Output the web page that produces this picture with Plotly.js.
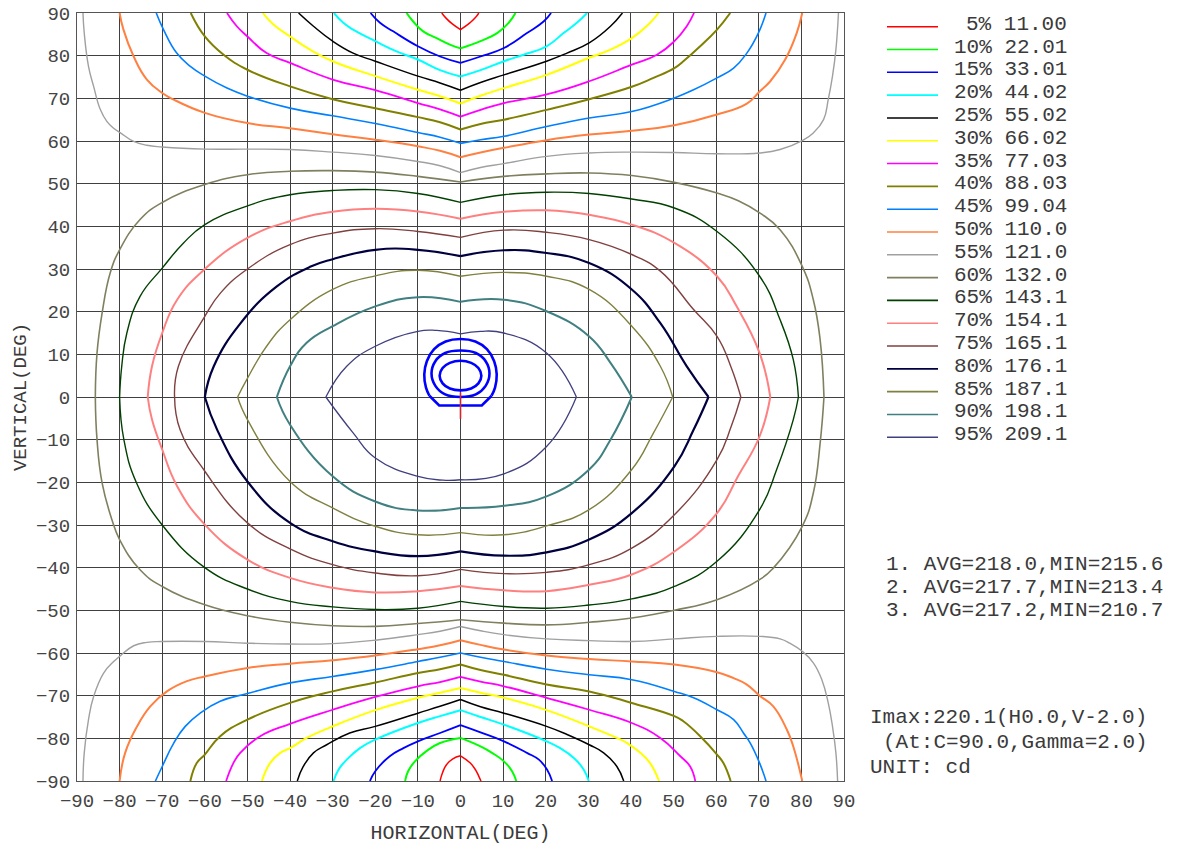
<!DOCTYPE html>
<html><head><meta charset="utf-8">
<script src="https://cdn.plot.ly/plotly-3.0.1.min.js"></script>
<style>html,body{margin:0;padding:0;background:#fff;}#chart{width:1187px;height:845px;}</style>
</head><body><div id="chart"></div>
<script>
// ---- level labels ----
const pctLabels = ['5%','10%','15%','20%','25%','30%','35%','40%','45%','50%','55%','60%','65%','70%','75%','80%','85%','90%','95%'];
const cdValues  = ['11.00','22.01','33.01','44.02','55.02','66.02','77.03','88.03','99.04','110.0','121.0','132.0','143.1','154.1','165.1','176.1','187.1','198.1','209.1'];
const tickVals  = [-90,-80,-70,-60,-50,-40,-30,-20,-10,0,10,20,30,40,50,60,70,80,90];
const tickText  = ['\u221290','\u221280','\u221270','\u221260','\u221250','\u221240','\u221230','\u221220','\u221210','0','10','20','30','40','50','60','70','80','90'];
const zoneStats = ['1. AVG=218.0,MIN=215.6','2. AVG=217.7,MIN=213.4','3. AVG=217.2,MIN=210.7'];
const imaxH = [0];
const imaxV = [-2];

// ---- isocandela curves [H, V] ----
const c05T = [[-4.4,90],[-3.4,88.8],[-2,87.5],[0,86.1],[2.2,87.7],[3.4,88.8],[4.3,90]];
const c05B = [[-4.8,-90],[-4.2,-88],[-3.3,-86.2],[-1.8,-84.8],[0,-84.1],[2.3,-85.8],[3.6,-87.5],[4.3,-88.9],[4.8,-90]];
const c10T = [[-12.65,90],[-11.1,88],[-8.75,85.7],[-5.6,84.1],[-2.5,82.6],[0,81.7],[4.7,83.4],[8.6,85.3],[11.3,87.7],[12.9,90]];
const c10B = [[-13,-90],[-12.3,-87.7],[-10.7,-85.4],[-8,-83],[-4.8,-81.1],[0,-79.9],[4.7,-81.9],[7.4,-83.4],[10.2,-85.4],[12.1,-87.7],[13.1,-90]];
const c15T = [[-21.1,90],[-18.9,87.7],[-15.8,85.7],[-10,82.2],[-4.8,79.8],[0,78.3],[4.7,79.8],[10.2,81.8],[15.6,85.3],[19.5,88],[21.25,90]];
const c15B = [[-21.25,-90],[-20,-87.7],[-16.6,-84.2],[-13.4,-82.3],[-10,-80.7],[-4.8,-78.75],[0,-76.9],[4.7,-78.6],[10.2,-80.7],[15.6,-83.4],[18.4,-85],[20.3,-87.3],[21.5,-90]];
const c20T = [[-29.7,90],[-27.5,87.7],[-25.2,86.1],[-20,83.4],[-15,81],[-10,79.1],[-4.8,76.6],[0,75.1],[4.7,76.6],[10.2,78.7],[14.8,80.2],[20.2,82.2],[24.2,85.3],[27.3,87.7],[29.7,90]];
const c20B = [[-29.8,-90],[-28.6,-87.3],[-26.7,-85],[-23.6,-82.3],[-20,-80.3],[-10,-76.4],[-4.8,-74.8],[0,-73.4],[4.7,-75],[10.2,-76.8],[20.2,-80.7],[23.4,-82.3],[26.6,-84.6],[28.9,-87.3],[30.1,-90]];
const c25T = [[-38,90],[-34.5,86.9],[-30,83.4],[-25.2,80.6],[-20,78.7],[-10,75.2],[-4.8,73.6],[0,71.9],[4.7,73.7],[10.2,75.5],[20.2,78.7],[25,80.6],[30.2,83],[35.2,86.9],[38,90]];
const c25B = [[-38.3,-90],[-36.9,-86.6],[-34.5,-83.4],[-31.4,-81.5],[-26,-78.75],[-20,-77.2],[-10,-74.1],[-4.8,-72.5],[0,-70.9],[4.7,-72.6],[10.2,-74.1],[20.2,-77.2],[25,-79.1],[30.2,-81.5],[33.6,-83.4],[36.7,-86.6],[38.3,-90]];
const c30T = [[-46.4,90],[-43.9,87.3],[-40,84.5],[-35.3,81.4],[-30,78.7],[-20,75.2],[-10,72],[-4.8,70.5],[0,68.8],[4.7,70.6],[10.2,72.4],[20.2,75.5],[30.2,79.5],[35.2,81.4],[40.2,84.1],[44.1,87.3],[46.5,90]];
const c30B = [[-46.6,-90],[-44.7,-85.8],[-42.3,-83.4],[-40,-82.3],[-36.1,-79.9],[-30,-77.2],[-20,-73.4],[-10,-70.5],[-4.8,-69.3],[0,-68.2],[4.7,-69.3],[10.2,-70.5],[20.2,-73.4],[30.2,-77.2],[36.7,-79.9],[39.1,-81.1],[42.2,-83.4],[44.5,-85.8],[46.6,-90]];
const c35T = [[-54.8,90],[-52.5,86.9],[-50,84.5],[-45.5,80.6],[-40,78.3],[-30,74.4],[-20,71.9],[-10,68.9],[-4.8,67.4],[0,65.7],[4.7,67.3],[10.2,68.9],[20.2,70.9],[30.2,74],[40.2,77.9],[46.1,80.2],[50.2,83.4],[53.1,86.9],[54.8,90]];
const c35B = [[-55,-90],[-53.3,-85.8],[-51.7,-83.4],[-47,-79.5],[-40,-76.6],[-30,-73.3],[-20,-70.3],[-10,-67.8],[-4.8,-66.8],[0,-65.6],[4.7,-66.7],[10.2,-67.8],[20.2,-70.5],[30.2,-73.3],[40.2,-76.4],[46.9,-79.9],[51.6,-84.2],[53.9,-86.6],[55.1,-90]];
const c40T = [[-63.3,90],[-60,84.5],[-55.6,80.2],[-50,76.7],[-40,72.8],[-30,69.8],[-20,67.7],[-10,65.6],[-4.8,64.4],[0,62.7],[4.7,64],[10.2,65],[20.2,67.3],[30.2,69.8],[40.2,72.7],[45.3,74.8],[50.2,77.1],[52.3,78.7],[56.25,82.2],[60.2,86.1],[63.3,90]];
const c40B = [[-63.4,-90],[-61.9,-85.8],[-60,-83.8],[-56.4,-79.5],[-50,-75.6],[-40,-71.7],[-30,-69],[-20,-66.9],[-10,-64.7],[-4.8,-63.8],[0,-62.7],[4.7,-64],[10.2,-65.1],[20.2,-67.4],[30.2,-69],[40.2,-71.7],[50.2,-74.8],[52.3,-76],[56.25,-79.5],[60.2,-83.8],[61.7,-85.8],[63.4,-90]];
const c45T = [[-71.4,90],[-69.7,86.1],[-66.6,80.6],[-63.4,77.5],[-60,75.2],[-54.8,72.4],[-50,70.5],[-40,67.7],[-30,65.9],[-20,64.1],[-10,62],[-4.8,60.9],[0,59.45],[4.7,60.3],[10.2,61.1],[20.2,63.4],[30.2,65.4],[40.2,66.9],[50.2,70.1],[54.7,72],[60.2,74.8],[64.1,77.1],[67.2,80.6],[69.9,85.3],[71.7,90]];
const c45B = [[-71.6,-90],[-70,-86.6],[-67.3,-81.1],[-64.6,-77.2],[-61.1,-74.1],[-56.4,-71.3],[-50,-69.5],[-40,-67],[-30,-65.5],[-20,-63.9],[-10,-62],[-4.8,-61],[0,-60],[4.7,-61],[10.2,-62],[20.2,-63.8],[30.2,-65.1],[40.2,-66.25],[50.2,-69],[54.7,-70.5],[60.2,-73.3],[64.1,-75.6],[66.4,-78.75],[68,-81.1],[70.2,-85.8],[71.7,-90]];
const c50T = [[-80,90],[-79.1,86.1],[-76.7,79.8],[-73.6,74.4],[-70,71.25],[-67.3,69.7],[-60,66.6],[-50,64.2],[-40,63],[-30,61.6],[-20,60.3],[-10,58.75],[-4.8,57.7],[0,56.2],[4.7,57.3],[10.2,58.4],[20.2,60.2],[30.2,61.5],[40.2,62.4],[50.2,63.7],[60.2,66.2],[67.2,68.75],[70.2,71.6],[72.7,74],[76.2,79.1],[78.9,85.3],[80.2,90]];
const c50B = [[-80,-90],[-78.7,-83.4],[-75.9,-77.2],[-72.8,-72.5],[-68.9,-69],[-64.2,-66.6],[-60,-65.5],[-50,-63.5],[-40,-62.5],[-30,-61.7],[-20,-60.6],[-10,-59.1],[-4.8,-58.2],[0,-57],[4.7,-58.1],[10.2,-59.2],[20.2,-60.6],[30.2,-61.4],[40.2,-62],[50.2,-62.7],[60.2,-64.5],[64.1,-65.9],[67.2,-67.4],[70.2,-70],[73.4,-72.5],[76.6,-78],[78.1,-81.9],[80.2,-90]];
const c55T = [[-88.6,90],[-88.3,85.3],[-87.3,77.5],[-86.1,72.8],[-84.5,67.3],[-83,64.6],[-81.4,63],[-79.8,61.9],[-76.7,59.9],[-73.6,59],[-70,58.6],[-60,58.1],[-50,58.1],[-40,58],[-30,57.4],[-20,56.6],[-10,55.2],[-4.8,54.2],[0,52.6],[4.7,53.8],[10.2,54.7],[20.2,56.4],[30.2,57.2],[40.2,57.4],[50.2,57.3],[60.2,57],[70.2,57.2],[75,58],[80.2,60.1],[82.8,61.9],[85.2,65],[86.3,69.7],[87.3,75.2],[88.1,81.4],[88.7,90]];
const c55B = [[-88.6,-90],[-88.3,-83.4],[-87.3,-75.6],[-86.1,-70.2],[-83.75,-64.7],[-81.4,-62],[-80,-60.8],[-76.7,-58.3],[-73.6,-57.5],[-70,-57.3],[-60,-57.3],[-50,-57.7],[-40,-57.9],[-30,-57.8],[-20,-57],[-10,-55.7],[-4.8,-54.9],[0,-53.8],[4.7,-54.8],[10.2,-55.7],[20.2,-56.7],[30.2,-57.1],[40.2,-57.3],[50.2,-56.7],[60.2,-56.1],[70.2,-56.1],[75,-56.7],[77.3,-57.7],[80.2,-59.6],[82.8,-62.3],[84.8,-66.25],[86.3,-71.7],[87.3,-77.2],[88.1,-83.4],[88.5,-90]];
const c60 = [[-85.7,0],[-85.3,10.3],[-84.1,19.7],[-82.2,29.1],[-80,34.5],[-75.2,41.6],[-70,45.6],[-60,49.8],[-50,52.1],[-40,52.9],[-30,53.05],[-20,52.7],[-10,51.7],[0,50.4],[10.2,51.7],[20.2,52.3],[30.2,52.5],[40.2,51.9],[50.2,50.3],[60.2,47.8],[65.2,46],[70.3,43.1],[75,39.2],[80.2,30.6],[82.8,22.8],[84.4,13.4],[85.3,0],[84.4,-10.8],[82.8,-22.5],[80.2,-30.3],[73.4,-40.1],[70.2,-42.8],[60.2,-47.5],[50.2,-50],[40.2,-51.8],[30.2,-52.8],[20.2,-53.4],[10.2,-53],[0,-52.2],[-10,-53.1],[-20,-53.75],[-30,-53.6],[-40,-52.8],[-50,-51.25],[-60,-48.7],[-70,-44.4],[-75.2,-40.5],[-80,-33.4],[-81.8,-28.75],[-84.1,-20.2],[-85.3,-10],[-85.7,0]];
const c65 = [[-80,0],[-79.5,7.2],[-78.3,15],[-75.2,23.6],[-70,30.2],[-65,36.1],[-60,40.4],[-50,44.8],[-40,47.4],[-30,48.4],[-20,48.6],[-10,47.7],[0,45.6],[10.2,47.4],[20.2,48],[30.2,47.7],[40.2,46.4],[50.2,44.3],[60.2,38.8],[70.2,28.3],[75,18.1],[78.1,8.75],[79.3,0],[78.1,-5.3],[74.2,-17],[70.2,-26.4],[60.2,-38.5],[50.2,-44.4],[40.2,-47.3],[30.2,-48.75],[20.2,-49.5],[10.2,-49.1],[0,-47.9],[-10,-49.5],[-20,-49.8],[-30,-49.2],[-40,-47.9],[-50,-45],[-60,-40],[-70,-30],[-76,-20.2],[-79,-10],[-80,0]];
const c70 = [[-73.4,0],[-72.4,7.2],[-70,15],[-66.5,22.8],[-60,30],[-50,37.3],[-40,41.2],[-30,43.4],[-20,44.1],[-10,43.5],[0,41.8],[10.2,43.4],[20.2,43.75],[30.2,42.7],[40.2,40.4],[50.2,36.1],[60.2,28.3],[64.8,21.25],[70.2,10.3],[72.7,0],[70.2,-9.2],[65,-18.8],[60.2,-27.2],[50.2,-36.2],[40.2,-41.6],[30.2,-44],[20.2,-45.5],[10.2,-45.3],[0,-44.3],[-10,-45.5],[-20,-45.8],[-30,-44.7],[-40,-42.4],[-50,-38.1],[-60,-29.9],[-66.5,-20.9],[-70,-12.3],[-72.4,-5.3],[-73.4,0]];
const c75 = [[-67.1,0],[-66.2,7.2],[-60,18.9],[-56.3,24.4],[-50,30],[-40,35.7],[-30,38.4],[-20,39.45],[-10,38.8],[0,37.4],[10.2,39.1],[20.2,38.6],[30.2,36.9],[40.2,33.4],[46.9,29.5],[54.7,20.5],[60.2,14.2],[63.5,7],[65.8,0],[63.5,-7],[60.2,-14.7],[50.2,-27.6],[40.2,-35.4],[30.2,-39.3],[20.2,-41.1],[10.2,-41.4],[0,-40.4],[-10,-41.9],[-20,-41.25],[-30,-39.3],[-40,-35.6],[-50,-29.5],[-60,-17.4],[-65.8,-7.7],[-67.1,0]];
const c80 = [[-60,0],[-57.9,7.2],[-51.6,17.3],[-43.1,25.9],[-35.3,30.5],[-30,32.3],[-20,34.5],[-10,34.5],[0,33],[10.2,34.4],[20.2,33.75],[30.2,31.4],[40.2,25.2],[46.9,17.3],[53.1,7.2],[58.2,0],[54.7,-7.7],[50.2,-16.25],[40.2,-27.2],[30.2,-33.4],[20.2,-36.4],[10.2,-37.2],[0,-36.2],[-10,-37.3],[-20,-36.2],[-30,-33.8],[-40,-29.5],[-50,-19.8],[-57.1,-7.7],[-60,0]];
const c85 = [[-52.3,0],[-50.2,4],[-45.5,11.9],[-40,18.1],[-30,25.2],[-20,28.4],[-10,29.7],[0,28.3],[10.2,29.2],[20.2,28.3],[30.2,25.2],[40.2,16.6],[46.9,7.2],[49.8,0],[45.3,-8.4],[40.2,-17],[30.2,-26.4],[20.2,-30.2],[10.2,-32.3],[0,-31.8],[-10,-32.3],[-20,-30.3],[-30,-26],[-40,-19.8],[-50,-5.3],[-52.3,0]];
const c90 = [[-43.1,0],[-40,7.2],[-36.1,12.7],[-30,16.6],[-20,21.25],[-10,23.4],[0,22.3],[10.2,22.8],[20.2,20.1],[30.2,14.2],[35.2,8],[40.2,0],[35.2,-10],[30.2,-17],[20.2,-23.3],[10.2,-25.5],[0,-26],[-10,-26.6],[-20,-24.5],[-30,-18.6],[-40,-6.5],[-43.1,0]];
const c95 = [[-31.6,0],[-26.7,7.2],[-20,11.9],[-10,15.4],[-5.6,15.6],[0,14.8],[4.7,15.4],[10.2,15],[20.2,10.3],[27.2,0],[20.2,-11.6],[10.2,-18],[0,-19.4],[-4.1,-19.5],[-10,-18.6],[-20,-14.3],[-25.2,-8.4],[-31.6,0]];

// ---- evaluation zones (blue) ----
const zone3Arc  = [[7.3,0.3],[8.1,2.2],[8.5,5.3],[7.9,8.4],[6.2,11.2],[3.5,13.0],[0,13.6],[-3.5,13.0],[-6.2,11.2],[-7.9,8.4],[-8.5,5.3],[-8.1,2.2],[-7.3,0.3]];
const zone3Base = [[7.3,0.3],[5,-2],[-5,-2],[-7.3,0.3]];
const zone2 = [[0,10.9],[3.6,10.3],[5.9,8.4],[6.8,5.5],[5.9,2.6],[3.6,0.6],[0,0],[-3.6,0.6],[-5.9,2.6],[-6.8,5.5],[-5.9,8.4],[-3.6,10.3],[0,10.9]];
const zone1 = [[0,8.5],[2.5,8.0],[4.2,6.8],[4.9,5.0],[4.2,3.2],[2.5,2.0],[0,1.55],[-2.5,2.0],[-4.2,3.2],[-4.9,5.0],[-4.2,6.8],[-2.5,8.0],[0,8.5]];

const levelPieces = [[c05T,c05B],[c10T,c10B],[c15T,c15B],[c20T,c20B],[c25T,c25B],[c30T,c30B],[c35T,c35B],[c40T,c40B],[c45T,c45B],[c50T,c50B],[c55T,c55B],[c60],[c65],[c70],[c75],[c80],[c85],[c90],[c95]];

// ---- styles ----
const levelColors = ['#ff0000','#00ff00','#0000ff','#00ffff','#000000','#ffff00','#ff00ff','#808000','#0080ff','#ff8040','#a0a0a0','#808060','#004000','#ff8080','#804040','#000040','#808040','#408080','#404080'];
const levelWidths = [1.5,2,1.8,2,1.5,2,1.8,2,1.6,2,1.4,1.6,1.4,2,1.4,2.2,1.4,2,1.3];
const MONO = 'Liberation Mono, DejaVu Sans Mono, monospace';
const TXT = '#3a3a3a';

// split a piece at its cusps (points lying on H=0 or V=0)
function piecesToXY(pieces, split){
  const xs=[], ys=[];
  const flush = seg => { seg.forEach(p=>{xs.push(p[0]); ys.push(p[1]);}); xs.push(null); ys.push(null); };
  pieces.forEach(piece=>{
    let seg=[];
    piece.forEach((p,i)=>{
      seg.push(p);
      if(split && i>0 && i<piece.length-1 && (p[0]===0 || p[1]===0)){ flush(seg); seg=[p]; }
    });
    flush(seg);
  });
  return {xs, ys};
}

const traces = [];
levelPieces.forEach((pcs,i)=>{
  const d = piecesToXY(pcs, true);
  traces.push({type:'scatter', mode:'lines', x:d.xs, y:d.ys, connectgaps:false,
    line:{color:levelColors[i], width:levelWidths[i], shape:'spline', smoothing:1.3, simplify:false},
    hoverinfo:'skip', showlegend:false});
});
[zone3Arc, zone2, zone1].forEach(z=>{
  const d = piecesToXY([z], false);
  traces.push({type:'scatter', mode:'lines', x:d.xs, y:d.ys,
    line:{color:'#0000ff', width:2.6, shape:'spline', smoothing:1}, hoverinfo:'skip', showlegend:false});
});
{
  const d = piecesToXY([zone3Base], false);
  traces.push({type:'scatter', mode:'lines', x:d.xs, y:d.ys,
    line:{color:'#0000ff', width:2.6, shape:'linear'}, hoverinfo:'skip', showlegend:false});
}
traces.push({type:'scatter', mode:'markers', x:imaxH, y:imaxV,
  marker:{symbol:'line-ns-open', size:19, line:{color:'#ff0000', width:1.6}}, hoverinfo:'skip', showlegend:false});

// ---- layout helpers (pixel -> paper) ----
const L=77, R=343, T=13, B=64, W=1187, H=845;
const pw = W-L-R, ph = H-T-B;
const px = x => (x-L)/pw;
const py = y => (H-B-y)/ph;

const annotations = [];
const shapes = [];
pctLabels.forEach((p,i)=>{
  const yLine = 26.7 + 22.81*i;
  shapes.push({type:'line', xref:'paper', yref:'paper', x0:px(887), x1:px(938), y0:py(yLine), y1:py(yLine),
    line:{color:levelColors[i], width:1.6}});
  annotations.push({xref:'paper', yref:'paper', x:px(1069), y:py(yLine-2.5), xanchor:'right', yanchor:'middle',
    text:p+' '+cdValues[i], showarrow:false, font:{family:MONO, size:21, color:TXT}});
});
const statY = [564, 587, 610];
zoneStats.forEach((s,i)=>{
  annotations.push({xref:'paper', yref:'paper', x:px(884), y:py(statY[i]), xanchor:'left', yanchor:'middle',
    text:s, showarrow:false, font:{family:MONO, size:21, color:TXT}});
});
annotations.push({xref:'paper', yref:'paper', x:px(868), y:py(717), xanchor:'left', yanchor:'middle',
  text:'Imax:220.1(H0.0,V-2.0)', showarrow:false, font:{family:MONO, size:21, color:TXT}});
annotations.push({xref:'paper', yref:'paper', x:px(881), y:py(742), xanchor:'left', yanchor:'middle',
  text:'(At:C=90.0,Gamma=2.0)', showarrow:false, font:{family:MONO, size:21, color:TXT}});
annotations.push({xref:'paper', yref:'paper', x:px(868), y:py(767), xanchor:'left', yanchor:'middle',
  text:'UNIT: cd', showarrow:false, font:{family:MONO, size:21, color:TXT}});

const axisCommon = {
  tickmode:'array', tickvals:tickVals, ticktext:tickText, ticks:'',
  showgrid:true, gridcolor:'#404040', gridwidth:1, zeroline:false,
  showline:true, mirror:true, linecolor:'#555', linewidth:1,
  tickfont:{family:MONO, size:19, color:'#444'}, fixedrange:true, automargin:false
};
const layout = {
  width:W, height:H, margin:{l:L, r:R, t:T, b:B, pad:0},
  paper_bgcolor:'#fff', plot_bgcolor:'#fff', showlegend:false,
  xaxis:Object.assign({}, axisCommon, {range:[-90,90], ticklabelstandoff:2,
    title:{text:'HORIZONTAL(DEG)', standoff:19, font:{family:MONO, size:20, color:TXT}}}),
  yaxis:Object.assign({}, axisCommon, {range:[-90,90], ticklabelstandoff:2,
    title:{text:'VERTICAL(DEG)', standoff:4, font:{family:MONO, size:19, color:TXT}}}),
  annotations:annotations, shapes:shapes
};
Plotly.newPlot('chart', traces, layout, {displayModeBar:false, staticPlot:true});
</script>
</body></html>
